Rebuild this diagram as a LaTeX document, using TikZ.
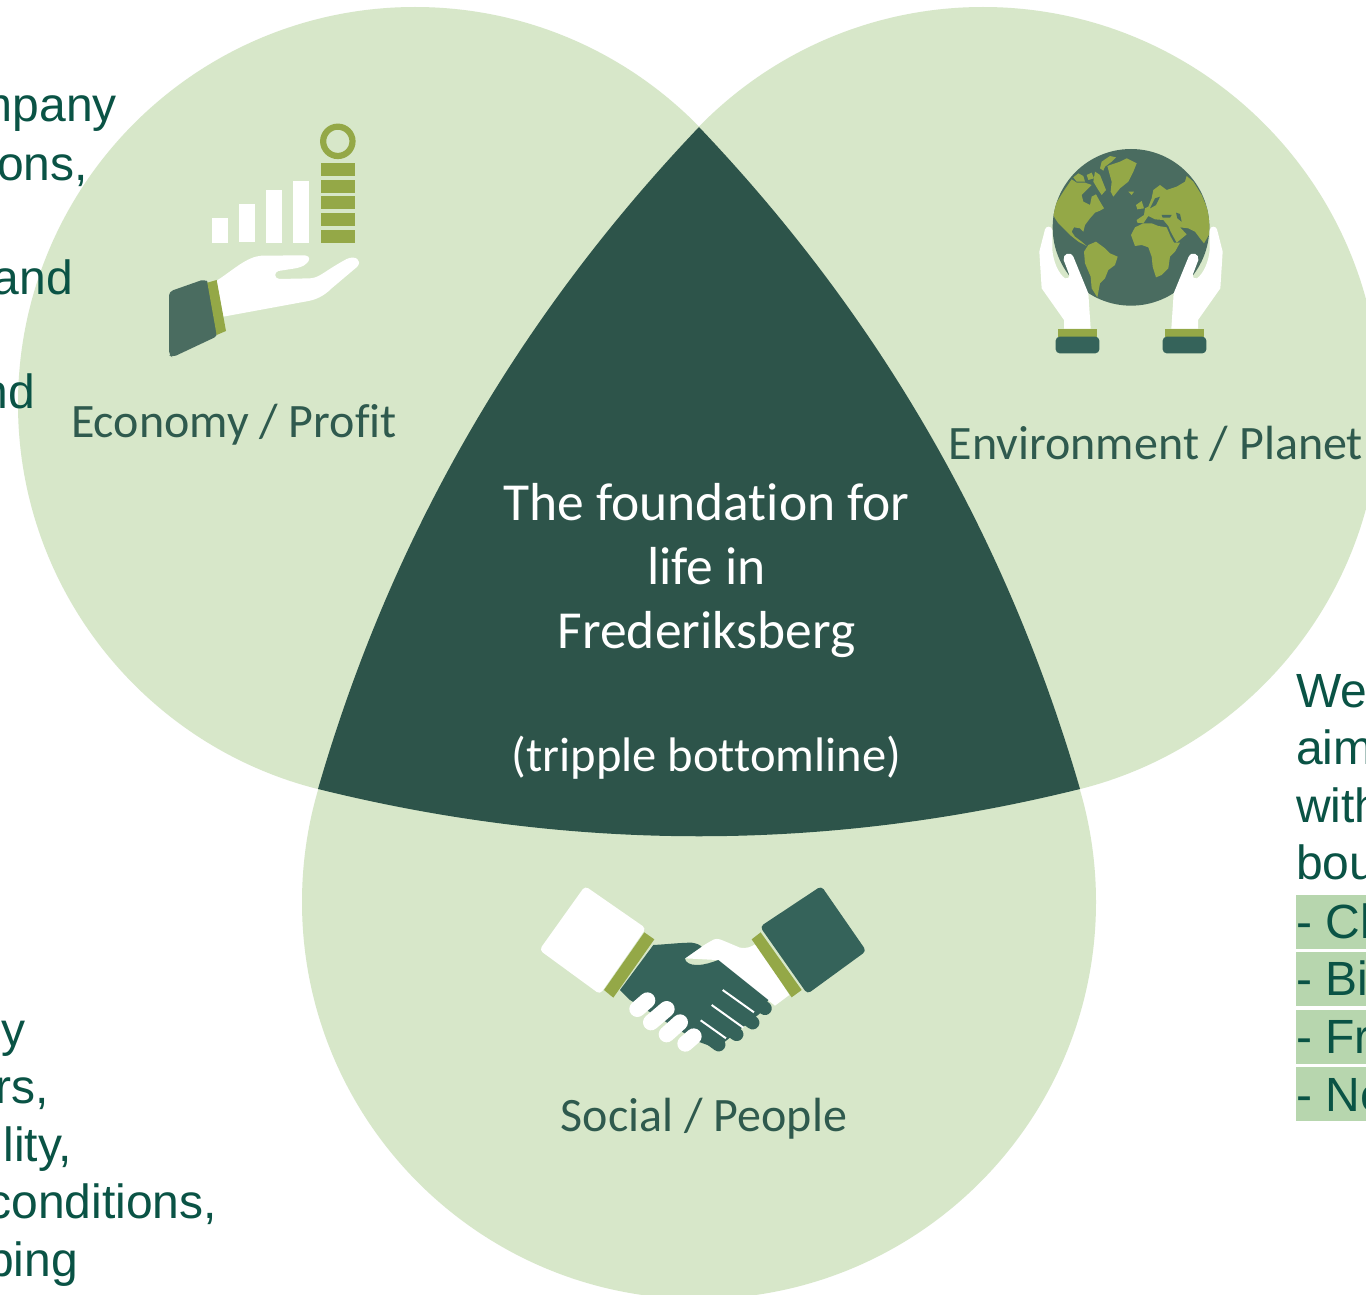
\documentclass[tikz,border=0pt]{standalone}
\usepackage{fontspec}
\setmainfont{Liberation Sans}
\newfontfamily\calib[Ligatures=NoCommon]{Carlito}
\definecolor{blob}{HTML}{D7E7C9}
\definecolor{core}{HTML}{2D544A}
\definecolor{olive}{HTML}{94A847}
\definecolor{slate}{HTML}{4A6C60}
\definecolor{cuffd}{HTML}{35635A}
\definecolor{ink}{HTML}{0A5345}
\definecolor{lab}{HTML}{2F5A4E}
\definecolor{hl}{HTML}{B7D6AE}
\tikzset{
  sidetext/.style={inner sep=0pt,text=ink,font=\fontsize{48}{57}\selectfont},
  labeltext/.style={inner sep=0pt,text=lab,anchor=base,font=\calib\fontsize{48}{56}\selectfont},
  coretext/.style={inner sep=0pt,text=white,anchor=base,font=\calib\fontsize{53.5}{60}\selectfont},
  coresmall/.style={inner sep=0pt,text=white,anchor=base,font=\calib\fontsize{48.5}{60}\selectfont},
  zoomed/.style={x=0.33333pt,y=-0.33333pt}
}
\newcommand{\globehand}{%
  \fill[white] (75,268) .. controls (78,258) and (94,256) .. (97,270) -- (97,330)
    .. controls (100,365) and (115,400) .. (135,415) .. controls (142,418) and (150,412) .. (148,405)
    -- (131,360) .. controls (128,342) and (150,332) .. (160,350) -- (205,460) -- (212,566) -- (132,566) -- (132,540)
    -- (65,445) -- (58,335) -- cycle;
  \fill[olive] (115,567) -- (230,567) -- (230,592) -- (115,592) -- cycle;
  \fill[cuffd,rounded corners=4pt] (107,590) rectangle (238,640);
}
\begin{document}
\begin{tikzpicture}[x=1pt,y=-1pt]
\useasboundingbox (0,0) rectangle (1366,1295);
\fill[white] (0,0) rectangle (1366,1295);
% three circles
\fill[blob] (415,404) circle[radius=397];
\fill[blob] (983,404) circle[radius=397];
\fill[blob] (699,902) circle[radius=397];
% centre
\coordinate (apex) at (699,127);
\coordinate (bl) at (318,789);
\coordinate (br) at (1080,789);
\fill[core] (apex) .. controls (518,317) and (391,537) .. (bl)
  .. controls (572,852) and (826,852) .. (br)
  .. controls (1007,537) and (880,317) .. (apex) -- cycle;
% highlights
\fill[hl] (1296,895) rectangle (1366,949);
\fill[hl] (1296,952) rectangle (1366,1006);
\fill[hl] (1296,1010) rectangle (1366,1064);
\fill[hl] (1296,1067) rectangle (1366,1121);
% economy icon
\begin{scope}[shift={(150,110)},zoomed]
  \fill[white] (186,324) rectangle (234,399);
  \fill[white] (267,282) rectangle (315,396);
  \fill[white] (348,240) rectangle (396,399);
  \fill[white] (429,213) rectangle (477,399);
  \fill[olive] (513,159) rectangle (615,198);
  \fill[olive] (513,210) rectangle (615,249);
  \fill[olive] (513,258) rectangle (615,297);
  \fill[olive] (513,309) rectangle (615,348);
  \fill[olive] (513,360) rectangle (615,399);
  \draw[olive,line width=6.2pt] (563.5,94) circle[radius=44];
  \fill[white] (200,512) .. controls (250,480) and (290,440) .. (335,437) -- (465,436)
    .. controls (482,438) and (480,452) .. (470,460) .. controls (460,470) and (445,474) .. (430,476)
    -- (385,483) .. controls (372,487) and (372,505) .. (388,507) -- (480,505)
    .. controls (510,503) and (520,485) .. (590,447) .. controls (615,435) and (638,450) .. (622,470)
    -- (545,535) .. controls (520,560) and (495,570) .. (470,574) -- (220,620) -- cycle;
  \fill[slate,rounded corners=4pt] (57,545) -- (165,507) -- (176,520) -- (203,678) -- (67,742) -- (57,735) -- cycle;
  \fill[olive] (172,518) -- (200,510) -- (228,663) -- (200,675) -- cycle;
\end{scope}
% globe icon
\begin{scope}[shift={(1020,140)},zoomed]
  \fill[slate] (333,262) circle[radius=235];
  \begin{scope}
    \clip (333,262) circle[radius=235];
    \fill[olive] (95,215) -- (108,190) -- (130,155) -- (155,118) -- (170,128) -- (195,128) -- (215,135) -- (200,150) -- (185,165) -- (190,185) -- (210,195) -- (215,170) -- (228,163) -- (240,185) -- (252,205) -- (240,212) -- (225,218) -- (210,235) -- (195,255) -- (190,275) -- (180,265) -- (162,262) -- (155,275) -- (165,290) -- (185,305) -- (200,318) -- (175,305) -- (150,285) -- (130,265) -- (115,250) -- (105,235) -- cycle;
    \fill[olive] (160,112) -- (175,100) -- (190,108) -- (195,125) -- (170,125) -- cycle;
    \fill[olive] (200,105) -- (215,98) -- (222,115) -- (205,120) -- cycle;
    \fill[olive] (225,95) -- (240,105) -- (250,130) -- (258,150) -- (245,165) -- (235,150) -- (220,125) -- cycle;
    \fill[olive] (245,65) -- (270,48) -- (288,52) -- (275,65) -- (255,80) -- (250,92) -- (240,85) -- cycle;
    \fill[olive] (262,78) -- (285,70) -- (300,65) -- (320,55) -- (350,70) -- (340,95) -- (325,125) -- (300,145) -- (280,170) -- (272,155) -- (275,125) -- (268,100) -- cycle;
    \fill[olive] (325,155) -- (342,155) -- (335,165) -- cycle;
    \fill[olive] (192,335) -- (205,315) -- (228,305) -- (255,325) -- (270,340) -- (293,350) -- (285,375) -- (265,390) -- (255,415) -- (240,430) -- (232,472) -- (215,445) -- (212,410) -- (195,370) -- cycle;
    \fill[olive] (333,285) -- (345,262) -- (370,250) -- (395,250) -- (415,258) -- (440,262) -- (452,290) -- (462,308) -- (480,308) -- (465,335) -- (450,350) -- (445,385) -- (425,405) -- (408,412) -- (398,380) -- (395,350) -- (385,322) -- (365,315) -- (345,318) -- cycle;
    \fill[olive] (350,240) -- (372,225) -- (375,205) -- (385,200) -- (395,175) -- (400,150) -- (420,135) -- (440,150) -- (470,140) -- (495,125) -- (500,108) -- (520,125) -- (545,165) -- (575,235) -- (575,270) -- (552,310) -- (540,295) -- (525,275) -- (505,265) -- (480,262) -- (500,283) -- (470,308) -- (452,275) -- (445,258) -- (430,240) -- (405,238) -- (385,228) -- (370,250) -- (352,248) -- cycle;
    \fill[olive] (348,195) -- (365,183) -- (372,205) -- (352,208) -- cycle;
    \fill[slate] (390,205) -- (405,175) -- (420,170) -- (408,195) -- cycle;
    \fill[slate] (425,225) -- (455,225) -- (450,233) -- (428,233) -- cycle;
    \fill[slate] (468,218) -- (480,222) -- (485,245) -- (472,235) -- cycle;
  \end{scope}
  \globehand
\end{scope}
\begin{scope}[shift={(1242,140)},x=-0.33333pt,y=-0.33333pt]
  \globehand
\end{scope}
% handshake icon
\begin{scope}[shift={(530,875)},zoomed]
  \fill[white] (465,250) .. controls (490,232) and (520,210) .. (545,197) .. controls (555,190) and (565,190) .. (580,197)
     -- (630,218) .. controls (650,222) and (665,215) .. (680,205) -- (778,360) -- (735,392) -- (560,255) -- cycle;
  \fill[cuffd] (270,345) -- (370,210) .. controls (410,208) and (450,203) .. (485,203) .. controls (500,205) and (510,210) .. (515,215)
     -- (465,250) .. controls (465,262) and (480,270) .. (500,270) .. controls (525,270) and (545,262) .. (565,255)
     -- (715,375) -- (690,415) -- (560,520) -- (505,500) -- (300,375) -- cycle;
  \draw[cuffd,line width=13.5pt,line cap=round] (600,325) -- (705,400);
  \draw[cuffd,line width=13.5pt,line cap=round] (560,365) -- (668,443);
  \draw[cuffd,line width=13.5pt,line cap=round] (525,410) -- (620,478);
  \draw[cuffd,line width=13.5pt,line cap=round] (500,460) -- (566,509);
  \draw[white,line width=2pt] (578,345) -- (672,412);
  \draw[white,line width=2pt] (545,390) -- (640,458);
  \draw[white,line width=2pt] (512,436) -- (588,490);
  \draw[white,line width=16pt,line cap=round] (322,402) -- (352,376);
  \draw[white,line width=16pt,line cap=round] (363,442) -- (410,402);
  \draw[white,line width=16pt,line cap=round] (410,478) -- (450,442);
  \draw[white,line width=16pt,line cap=round] (466,506) -- (491,484);
  \fill[white,rounded corners=4pt] (165,33) -- (348,160) -- (210,358) -- (28,225) -- cycle;
  \fill[olive] (343,172) -- (373,193) -- (250,368) -- (222,345) -- cycle;
  \fill[cuffd,rounded corners=4pt] (874,33) -- (1009,228) -- (832,357) -- (690,155) -- cycle;
  \fill[olive] (692,172) -- (665,193) -- (785,367) -- (815,345) -- cycle;
\end{scope}
% left top text
\node[sidetext,anchor=base east] (t1) at (117,122) {mpany};
\node[sidetext,anchor=base east] (t2) at (88,180) {ons,};
\node[sidetext,anchor=base east] (t3) at (73,294) {and};
\node[sidetext,anchor=base east] (t4) at (35,408) {nd};
% left bottom text
\node[sidetext,anchor=base east] (b1) at (26,1046) {y};
\node[sidetext,anchor=base east] (b2) at (49,1103) {rs,};
\node[sidetext,anchor=base east] (b3) at (72,1161) {lity,};
\node[sidetext,anchor=base east] (b4) at (217,1218) {conditions,};
\node[sidetext,anchor=base east] (b5) at (78,1276) {ping};
% right text
\node[sidetext,anchor=base west] (r1) at (1296,707) {We};
\node[sidetext,anchor=base west] (r2) at (1296,764) {aim};
\node[sidetext,anchor=base west] (r3) at (1296,822) {with};
\node[sidetext,anchor=base west] (r4) at (1296,879) {bou};
\node[sidetext,anchor=base west] (r5) at (1296,938) {- Cl};
\node[sidetext,anchor=base west] (r6) at (1296,995) {- Bi};
\node[sidetext,anchor=base west] (r7) at (1296,1053) {- Fr};
\node[sidetext,anchor=base west] (r8) at (1296,1111) {- Ne};
% labels
\node[labeltext] (eco) at (234,437) {Economy / Profit};
\node[labeltext] (env) at (1156,459) {Environment / Planet};
\node[labeltext] (soc) at (704,1131) {Social / People};
\node[coretext] (c1) at (706.5,520) {The foundation for};
\node[coretext] (c2) at (706.5,584) {life in};
\node[coretext] (c3) at (706.5,648) {Frederiksberg};
\node[coresmall] (c4) at (706.5,771) {(tripple bottomline)};
\end{tikzpicture}
\end{document}
